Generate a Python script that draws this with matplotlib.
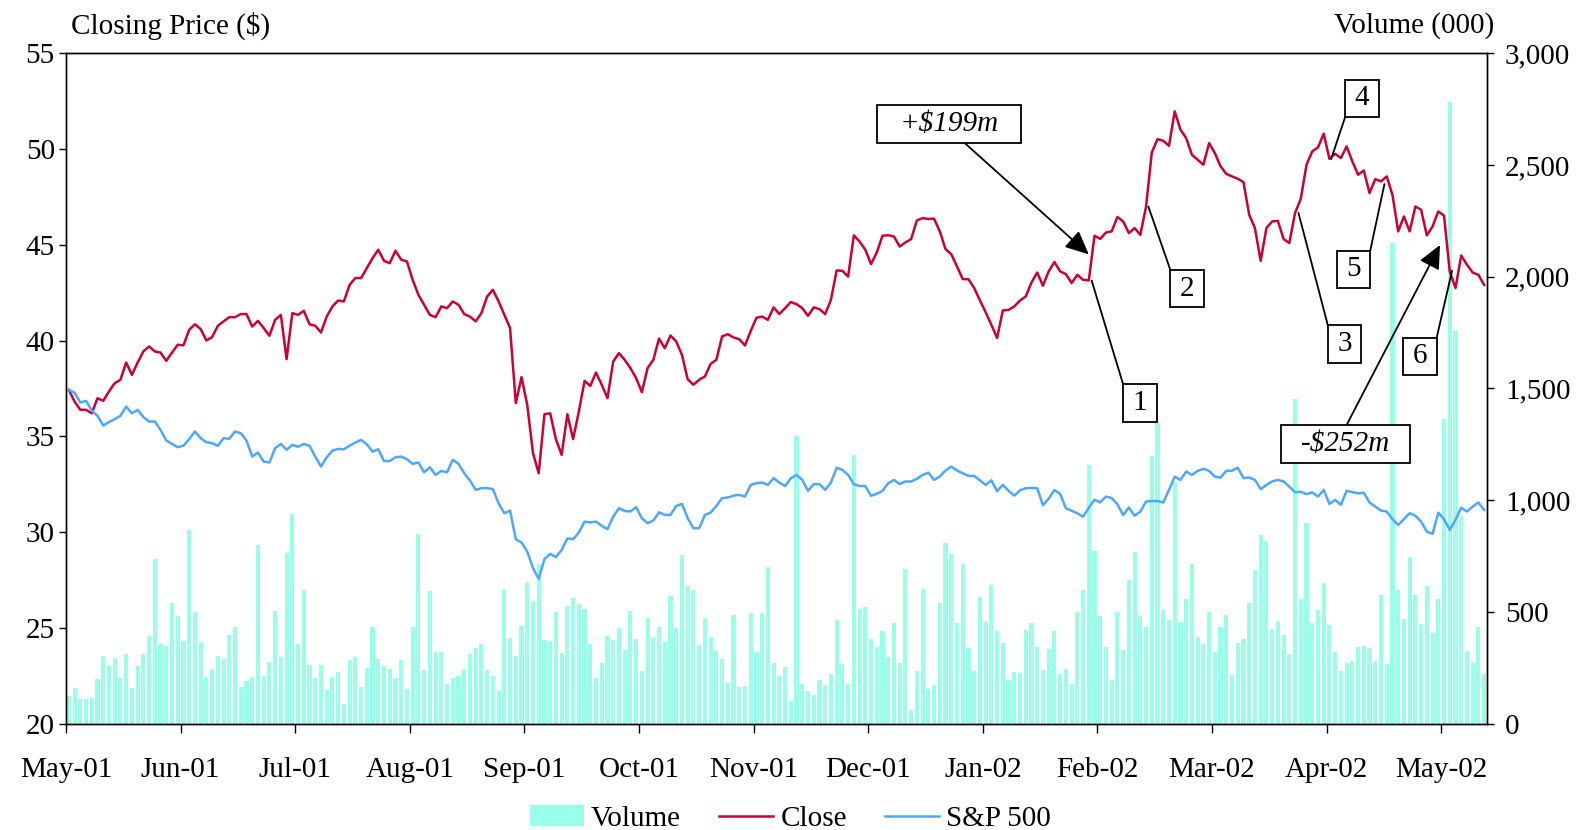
#!/usr/bin/env python3
"""Closing price vs rebased S&P 500 with daily volume, May-01 to May-02."""
import matplotlib

matplotlib.use("Agg")
import matplotlib.pyplot as plt
import numpy as np
from matplotlib.patches import Rectangle
from matplotlib.ticker import StrMethodFormatter

plt.rcParams["font.family"] = ["Liberation Serif", "DejaVu Serif"]

month_labels = ["May-01", "Jun-01", "Jul-01", "Aug-01", "Sep-01", "Oct-01", "Nov-01",
                "Dec-01", "Jan-02", "Feb-02", "Mar-02", "Apr-02", "May-02"]

# closing price ($), one value per trading day
close = [
    37.42, 36.81, 36.38, 36.38, 36.20, 36.99, 36.85, 37.34, 37.77, 37.95,
    38.85, 38.21, 38.85, 39.43, 39.69, 39.43, 39.37, 38.94, 39.37, 39.78,
    39.75, 40.56, 40.85, 40.60, 40.00, 40.18, 40.77, 41.00, 41.22, 41.22,
    41.38, 41.38, 40.73, 41.03, 40.65, 40.25, 41.08, 41.34, 39.03, 41.43,
    41.34, 41.55, 40.85, 40.77, 40.42, 41.25, 41.78, 42.09, 42.04, 42.91,
    43.26, 43.26, 43.78, 44.30, 44.74, 44.16, 44.04, 44.69, 44.22, 44.13,
    43.17, 42.39, 41.87, 41.34, 41.22, 41.78, 41.69, 42.04, 41.87, 41.38,
    41.25, 41.00, 41.43, 42.30, 42.65, 42.04, 41.34, 40.65, 36.73, 38.09,
    36.64, 34.12, 33.07, 36.15, 36.20, 34.85, 34.03, 36.15, 34.85, 36.29,
    37.89, 37.63, 38.33, 37.69, 36.99, 38.90, 39.34, 38.99, 38.56, 38.04,
    37.30, 38.56, 38.99, 40.10, 39.60, 40.26, 39.95, 39.25, 37.98, 37.69,
    37.95, 38.12, 38.78, 38.99, 40.21, 40.33, 40.16, 40.07, 39.74, 40.50,
    41.19, 41.25, 41.08, 41.73, 41.38, 41.69, 42.01, 41.90, 41.69, 41.29,
    41.73, 41.64, 41.38, 42.13, 43.66, 43.64, 43.34, 45.49, 45.17, 44.74,
    43.99, 44.60, 45.47, 45.50, 45.43, 44.91, 45.12, 45.30, 46.27, 46.39,
    46.35, 46.36, 45.70, 44.77, 44.51, 43.87, 43.21, 43.20, 42.74, 42.10,
    41.48, 40.82, 40.13, 41.57, 41.60, 41.78, 42.09, 42.30, 43.03, 43.55,
    42.86, 43.61, 44.10, 43.61, 43.47, 43.00, 43.43, 43.17, 43.14, 45.47,
    45.31, 45.64, 45.70, 46.45, 46.22, 45.61, 45.87, 45.52, 47.00, 49.82,
    50.52, 50.43, 50.17, 51.97, 51.01, 50.57, 49.70, 49.44, 49.18, 50.31,
    49.79, 49.10, 48.70, 48.57, 48.45, 48.27, 46.57, 45.87, 44.16, 45.87,
    46.22, 46.25, 45.30, 45.09, 46.66, 47.40, 49.18, 49.88, 50.08, 50.80,
    49.49, 49.75, 49.53, 50.14, 49.35, 48.66, 48.88, 47.70, 48.43, 48.31,
    48.57, 47.61, 45.70, 46.48, 45.70, 47.00, 46.83, 45.49, 45.96, 46.74,
    46.52, 43.61, 42.74, 44.44, 43.96, 43.55, 43.43, 42.90,
]

# S&P 500 rebased to the first close
sp500 = [
    37.42, 37.28, 36.76, 36.85, 36.34, 36.07, 35.56, 35.74, 35.89, 36.07,
    36.55, 36.20, 36.38, 36.00, 35.77, 35.77, 35.33, 34.78, 34.60, 34.43,
    34.51, 34.85, 35.25, 34.90, 34.69, 34.64, 34.50, 34.90, 34.87, 35.25,
    35.16, 34.78, 33.94, 34.15, 33.68, 33.63, 34.38, 34.60, 34.29, 34.55,
    34.45, 34.60, 34.50, 33.94, 33.42, 33.90, 34.25, 34.34, 34.32, 34.51,
    34.67, 34.81, 34.58, 34.20, 34.32, 33.71, 33.71, 33.90, 33.94, 33.80,
    33.56, 33.63, 33.12, 33.38, 32.98, 33.19, 33.12, 33.77, 33.56, 33.07,
    32.69, 32.20, 32.29, 32.29, 32.24, 31.50, 30.98, 31.12, 29.62, 29.45,
    28.98, 28.11, 27.55, 28.58, 28.86, 28.69, 29.06, 29.67, 29.62, 29.97,
    30.54, 30.50, 30.54, 30.32, 30.15, 30.80, 31.24, 31.10, 31.07, 31.30,
    30.72, 30.46, 30.60, 31.03, 30.89, 30.89, 31.36, 31.47, 30.72, 30.20,
    30.20, 30.89, 31.01, 31.36, 31.77, 31.80, 31.90, 31.94, 31.85, 32.46,
    32.55, 32.58, 32.46, 32.81, 32.58, 32.40, 32.81, 32.98, 32.72, 32.15,
    32.50, 32.50, 32.20, 32.58, 33.36, 33.24, 32.98, 32.50, 32.40, 32.40,
    31.89, 32.00, 32.15, 32.55, 32.72, 32.50, 32.64, 32.64, 32.78, 32.98,
    33.10, 32.72, 32.90, 33.21, 33.42, 33.21, 33.07, 32.93, 32.93, 32.70,
    32.46, 32.70, 32.13, 32.46, 32.15, 31.90, 32.18, 32.29, 32.30, 32.29,
    31.40, 31.74, 32.19, 31.99, 31.24, 31.11, 30.98, 30.80, 31.27, 31.68,
    31.55, 31.85, 31.77, 31.45, 30.89, 31.28, 30.85, 31.07, 31.59, 31.62,
    31.62, 31.54, 32.20, 32.89, 32.72, 33.16, 32.98, 33.19, 33.30, 33.19,
    32.89, 32.84, 33.20, 33.20, 33.36, 32.81, 32.85, 32.72, 32.24, 32.46,
    32.64, 32.72, 32.64, 32.37, 32.08, 32.10, 31.98, 32.07, 31.85, 32.20,
    31.47, 31.68, 31.42, 32.15, 32.08, 32.02, 32.05, 31.54, 31.33, 31.12,
    31.07, 30.67, 30.37, 30.67, 30.98, 30.85, 30.54, 30.02, 29.90, 31.01,
    30.67, 30.11, 30.63, 31.27, 31.07, 31.33, 31.54, 31.15,
]

# daily volume (000 shares)
volume = [
    123, 159, 110, 110, 114, 199, 302, 257, 293, 204,
    311, 159, 257, 311, 392, 737, 356, 347, 540, 481,
    369, 866, 499, 365, 208, 244, 302, 289, 396, 432,
    163, 190, 208, 799, 213, 275, 504, 298, 763, 938,
    356, 598, 262, 204, 262, 150, 208, 231, 87, 284,
    298, 163, 249, 432, 289, 257, 244, 204, 284, 154,
    432, 849, 240, 593, 320, 320, 177, 204, 213, 244,
    311, 338, 356, 240, 213, 146, 598, 383, 302, 437,
    634, 549, 714, 374, 369, 499, 316, 526, 562, 535,
    513, 356, 204, 271, 392, 374, 428, 329, 504, 378,
    235, 472, 387, 432, 365, 571, 428, 755, 616, 598,
    352, 472, 387, 325, 289, 181, 486, 163, 168, 495,
    322, 496, 702, 272, 213, 254, 101, 1287, 177, 146,
    128, 195, 172, 222, 463, 266, 177, 1200, 513, 522,
    378, 343, 414, 298, 450, 271, 692, 60, 235, 602,
    154, 172, 540, 808, 759, 450, 714, 338, 235, 566,
    459, 620, 414, 360, 195, 231, 226, 419, 450, 343,
    240, 334, 414, 222, 244, 177, 499, 598, 1158, 770,
    481, 343, 194, 501, 329, 642, 766, 483, 431, 1199,
    1346, 508, 464, 1081, 453, 556, 713, 386, 358, 501,
    318, 431, 486, 216, 362, 380, 541, 687, 843, 819,
    422, 459, 395, 313, 1452, 556, 898, 450, 508, 629,
    441, 322, 234, 270, 282, 343, 349, 336, 282, 574,
    267, 2150, 596, 468, 746, 574, 446, 614, 404, 556,
    1364, 2781, 1757, 929, 326, 276, 431, 222,
]

# numbered event callouts: label, box centre (day, $), point on the price line
callout_labels = ["1", "2", "3", "4", "5", "6"]
callout_boxes = [(186.9, 36.75), (195.15, 42.71), (222.65, 39.81),
                 (225.65, 52.64), (224.2, 43.71), (235.8, 39.17)]
callout_corners = [(0, 1), (0, 1), (0, 1), (0, 0), (1, 1), (1, 1)]
callout_points = [(178.5, 43.13), (188.4, 47.0), (214.6, 46.66),
                  (220.3, 49.48), (229.6, 48.17), (241.4, 43.64)]

# value-change arrows: text, box centre, box size, arrow start, arrow tip
value_texts = ["+$199m", "-$252m"]
value_boxes = [(153.65, 51.30, 25.1, 2.0), (222.75, 34.59, 22.5, 2.0)]
value_starts = [(156.4, 50.30), (223.0, 35.59)]
value_tips = [(178.0, 44.50), (239.3, 44.99)]

RED = "#CC0033"
BLUE = "#4DA6FF"
AQUA = "#99FFE6"
FS = 21


def main() -> None:
    fig = plt.figure(figsize=(15.85, 8.30), dpi=100)
    ax = fig.add_axes([0.04164, 0.12831, 0.89653, 0.80747])
    axv = ax.twinx()
    ax.set_zorder(axv.get_zorder() + 1)
    ax.patch.set_visible(False)

    x = np.arange(len(close))
    bars = axv.bar(x, volume, width=0.72, color=AQUA, linewidth=0)
    (l_close,) = ax.plot(x, close, color=RED, lw=1.8)
    (l_sp,) = ax.plot(x, sp500, color=BLUE, lw=1.8)

    ax.set_xlim(-0.5, len(x) - 0.5)
    ax.set_ylim(20, 55)
    axv.set_ylim(0, 3000)
    ax.set_yticks(np.arange(20, 56, 5))
    axv.set_yticks(np.arange(0, 3001, 500))
    axv.yaxis.set_major_formatter(StrMethodFormatter("{x:,.0f}"))
    ax.set_xticks(np.arange(len(month_labels)) * 20 - 0.5)
    ax.set_xticklabels(month_labels)

    ax.tick_params(axis="x", direction="out", length=6.5, width=1, labelsize=FS, pad=17.5)
    ax.tick_params(axis="y", direction="out", length=5, width=1, labelsize=FS, pad=3)
    axv.tick_params(axis="y", direction="out", length=5, width=1, labelsize=FS, pad=8)
    for a in (ax, axv):
        for s in a.spines.values():
            s.set_linewidth(1.0)

    # numbered callout boxes
    bw, bh = 5.85, 1.97
    for lab, (cx, cy), (rx, ry), pt in zip(callout_labels, callout_boxes,
                                            callout_corners, callout_points):
        ax.add_patch(Rectangle((cx - bw / 2, cy - bh / 2), bw, bh, facecolor="white",
                               edgecolor="black", lw=1.3, zorder=6))
        ax.text(cx, cy, lab, fontsize=FS, ha="center", va="center", zorder=7)
        start = (cx - bw / 2 + rx * bw, cy - bh / 2 + ry * bh)
        ax.annotate("", xy=pt, xytext=start, zorder=5,
                    arrowprops=dict(arrowstyle="-", color="black", lw=1.3,
                                    shrinkA=0, shrinkB=0))

    # value change boxes with arrows
    for txt, (cx, cy, w, h), st, tip in zip(value_texts, value_boxes, value_starts, value_tips):
        ax.add_patch(Rectangle((cx - w / 2, cy - h / 2), w, h, facecolor="white",
                               edgecolor="black", lw=1.3, zorder=6))
        ax.text(cx, cy, txt, fontsize=FS, style="italic", ha="center", va="center", zorder=7)
        ax.annotate("", xy=tip, xytext=st, zorder=5,
                    arrowprops=dict(arrowstyle="-|>,head_length=0.65,head_width=0.3",
                                    mutation_scale=22, color="black", lw=1.3,
                                    shrinkA=0, shrinkB=0))

    fig.text(0.0448, 0.969, "Closing Price ($)", fontsize=FS, ha="left", va="center")
    fig.text(0.9426, 0.969, "Volume (000)", fontsize=FS, ha="right", va="center")

    fig.legend([bars, l_close, l_sp], ["Volume", "Close", "S&P 500"],
               loc="center", bbox_to_anchor=(0.4986, 0.0137), ncol=3, frameon=False,
               fontsize=FS, handlelength=1.85, handletextpad=0.25, columnspacing=1.3)

    fig.savefig("out.png", dpi=100)
    plt.close(fig)


if __name__ == "__main__":
    main()
